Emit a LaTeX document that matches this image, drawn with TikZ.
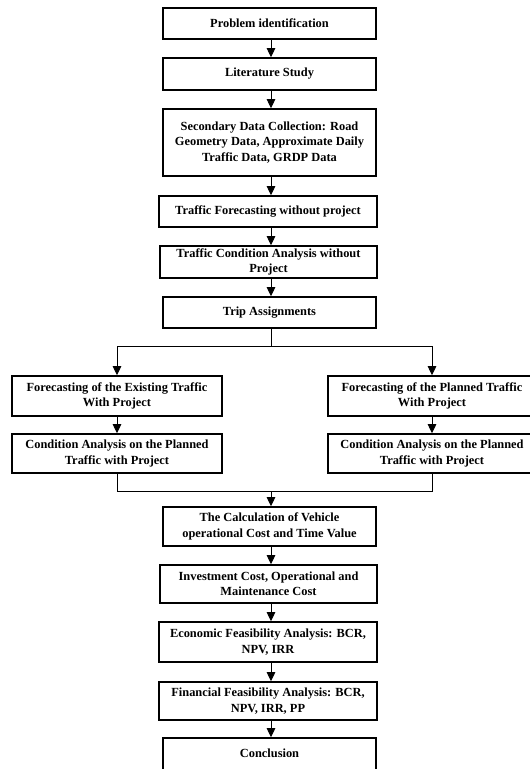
\documentclass[tikz,border=0pt]{standalone}
\usepackage{fontspec}
\setmainfont{Liberation Serif}
\usetikzlibrary{arrows.meta}
\tikzset{
  box/.style={draw=black, line width=1.6pt, fill=white, inner sep=0pt, align=center,
    font=\fontsize{12.4}{15.5}\selectfont\bfseries},
  conn/.style={draw=black, line width=0.9pt},
  arr/.style={conn, -{Triangle[length=9pt,width=8.5pt]}}
}
\newcommand{\bx}[6]{% name, x1, y1, x2, y2, text
  \node[box, minimum width=#4pt-#2pt, minimum height=#5pt-#3pt] (#1) at ({(#2+#4)/2},{(#3+#5)/2}) {#6};}
\begin{document}
\begin{tikzpicture}[x=1pt,y=-1pt]
\useasboundingbox (0,0) rectangle (530,769);
\bx{n1}{163}{8}{376}{39}{Problem identification}
\bx{n2}{163}{58}{376}{90}{Literature Study}
\bx{n3}{163}{109}{376}{176}{Secondary Data Collection: Road\\Geometry Data, Approximate Daily\\Traffic Data, GRDP Data}
\bx{n4}{159}{196}{377}{227}{Traffic Forecasting without project}
\bx{n5}{160}{246}{377}{278}{Traffic Condition Analysis without\\Project}
\bx{n6}{163}{297}{376}{328}{Trip Assignments}
\bx{l1}{12}{376}{222}{416}{Forecasting of the Existing Traffic\\With Project}
\bx{l2}{12}{434}{222}{473}{Condition Analysis on the Planned\\Traffic with Project}
\bx{r1}{328}{376}{536}{416}{Forecasting of the Planned Traffic\\With Project}
\bx{r2}{328}{434}{536}{473}{Condition Analysis on the Planned\\Traffic with Project}
\bx{n7}{163}{507}{376}{546}{The Calculation of Vehicle\\operational Cost and Time Value}
\bx{n8}{160}{565}{377}{603}{Investment Cost, Operational and\\Maintenance Cost}
\bx{n9}{159}{622}{377}{662}{Economic Feasibility Analysis: BCR,\\NPV, IRR}
\bx{n10}{159}{682}{377}{720}{Financial Feasibility Analysis: BCR,\\NPV, IRR, PP}
\bx{n11}{163}{738}{376}{780}{\raisebox{12pt}{Conclusion}}
\coordinate (split) at (271,346);
\coordinate (merge) at (271,491);
\draw[arr] (n1.south -| 271,0) -- (n2.north -| 271,0);
\draw[arr] (n2.south -| 271,0) -- (n3.north -| 271,0);
\draw[arr] (n3.south -| 271,0) -- (n4.north -| 271,0);
\draw[arr] (n4.south -| 271,0) -- (n5.north -| 271,0);
\draw[arr] (n5.south -| 271,0) -- (n6.north -| 271,0);
\draw[conn] (n6.south -| split) -- (split);
\draw[arr] (split) -| (l1.north);
\draw[arr] (split) -| (r1.north);
\draw[arr] (l1) -- (l2);
\draw[arr] (r1) -- (r2);
\draw[conn] (l2.south) |- (merge);
\draw[conn] (r2.south) |- (merge);
\draw[arr] (merge) -- (n7.north -| merge);
\draw[arr] (n7.south -| 271,0) -- (n8.north -| 271,0);
\draw[arr] (n8.south -| 271,0) -- (n9.north -| 271,0);
\draw[arr] (n9.south -| 271,0) -- (n10.north -| 271,0);
\draw[arr] (n10.south -| 271,0) -- (n11.north -| 271,0);
\end{tikzpicture}
\end{document}
